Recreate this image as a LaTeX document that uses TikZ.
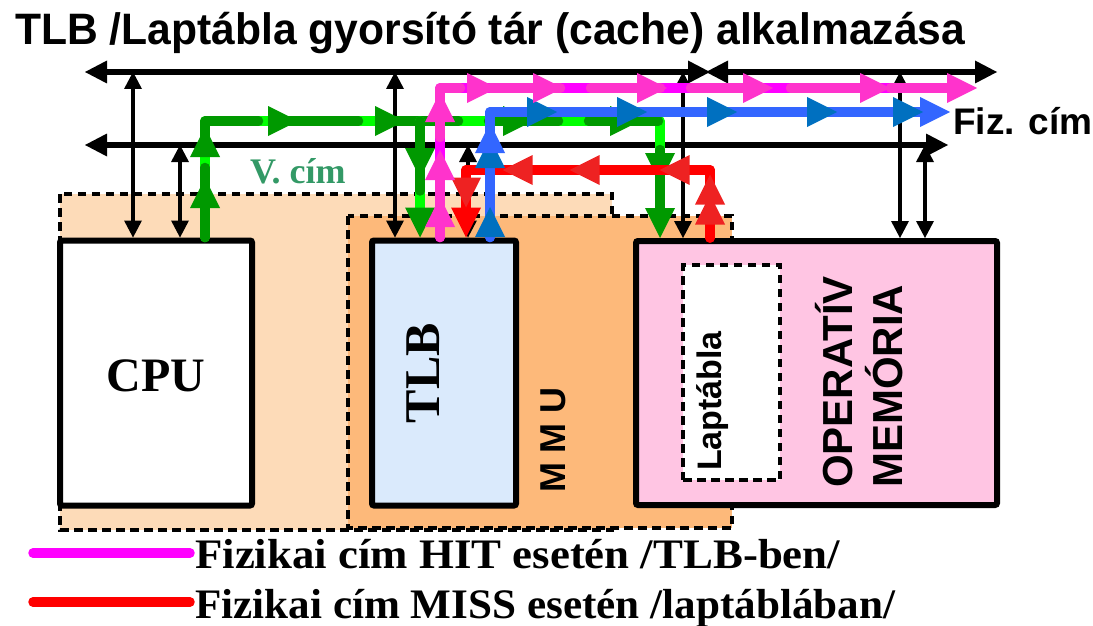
\documentclass[tikz,border=0pt]{standalone}
\usepackage{fontspec}
\setmainfont{Liberation Serif}
\setsansfont{Liberation Sans}
\usetikzlibrary{arrows.meta,decorations.markings}
\definecolor{peachL}{HTML}{FDDBB8}
\definecolor{peachD}{HTML}{FDB97A}
\definecolor{tlbfill}{HTML}{DAEAFC}
\definecolor{memfill}{HTML}{FFC5E3}
\definecolor{vgreen}{HTML}{339966}
\definecolor{gL}{HTML}{00FF00}
\definecolor{gD}{HTML}{009900}
\definecolor{pL}{HTML}{FF00FF}
\definecolor{pD}{HTML}{FF33CC}
\definecolor{bL}{HTML}{3366FF}
\definecolor{bD}{HTML}{0070C0}
\definecolor{rL}{HTML}{FF0000}
\definecolor{rD}{HTML}{EE2222}
\tikzset{
  BT/.tip={Triangle[width=23pt,length=22pt,line width=0pt]},
  VT/.tip={Triangle[width=18pt,length=17pt,line width=0pt]},
  CT/.tip={Triangle[width=30pt,length=30pt,line width=0pt]},
  bus/.style={line width=6.5pt, BT-BT},
  vlink/.style={line width=4.5pt, VT-VT},
  region/.style={draw, line width=4pt, dash pattern=on 8.5pt off 5.5pt},
  box/.style={draw, line width=6pt, rounded corners=2pt, inner sep=0pt},
  flowbase/.style={line width=9.5pt, line join=round, line cap=round, draw=#1, shorten >=26pt},
  flowtop/.style={line width=9.5pt, line join=round, line cap=round, draw=#1, dash pattern=on 70pt off 30pt, -{CT}},
  hd/.style 2 args={postaction={decorate,decoration={markings,mark=at position #2 with {\arrow[#1]{CT}}}}},
  serifb/.style={font=\bfseries\fontsize{#1}{#1}\selectfont, inner sep=0pt},
  sansb/.style={font=\sffamily\bfseries\fontsize{#1}{#1}\selectfont, inner sep=0pt},
}
\begin{document}
\begin{tikzpicture}[x=1pt,y=-1pt]
\useasboundingbox (0,0) rectangle (1093,626);
% regions
\draw[region, fill=peachL] (60,194) rectangle (612,530);
\draw[region, fill=peachD] (348,216) rectangle (732,528);
% boxes
\node[box, fill=white, minimum width=192pt, minimum height=265pt] (cpu) at (156,373) {};
\node[box, fill=tlbfill, minimum width=144pt, minimum height=265pt] (tlb) at (444,373) {};
\node[box, fill=memfill, minimum width=361pt, minimum height=264pt] (mem) at (816.5,373) {};
\node[draw, line width=4pt, dash pattern=on 8.5pt off 5.5pt, fill=white, inner sep=0pt, minimum width=97pt, minimum height=215pt] (lap) at (731.5,372.5) {};
% texts
\node[sansb=44, anchor=base west] (title) at (15,45) {\resizebox{950pt}{\height}{TLB /Laptábla gyorsító tár (cache) alkalmazása}};
\node[serifb=48] (cputxt) at (156,376) {CPU};
\node[serifb=50, rotate=90] (tlbtxt) at (423,373) {TLB};
\node[sansb=36, rotate=90] (mmutxt) at (553,440) {M M U};
\node[sansb=34, rotate=90] (laptxt) at (713,401) {Laptábla};
\node[sansb=42, rotate=90, anchor=base west] (op1) at (852,488) {OPERATÍV};
\node[sansb=42, rotate=90, anchor=base west] (op2) at (902,488) {MEMÓRIA};
\node[serifb=36, anchor=base west, text=vgreen] (vcim) at (250,183) {V. cím};
\node[sansb=37, anchor=base west] (fiz) at (953,135) {Fiz. cím};
% buses
\coordinate (A1) at (85,72); \coordinate (A2) at (710,72);
\coordinate (A3) at (706,72); \coordinate (A4) at (997,72);
\coordinate (B1) at (85,145); \coordinate (B2) at (948,145);
\draw[bus] (A1) -- (A2);
\draw[bus] (A3) -- (A4);
\draw[bus] (B1) -- (B2);
% black links
\coordinate (v1) at (133,72); \coordinate (v2) at (180,145);
\coordinate (v3) at (395,72); \coordinate (v4) at (468,145);
\coordinate (v5) at (683,72); \coordinate (v6) at (900,72);
\coordinate (v7) at (925,145);
\draw[vlink] (v1) -- (v1 |- cpu.north);
\draw[vlink] (v2) -- (v2 |- cpu.north);
\draw[vlink] (v3) -- (v3 |- tlb.north);
\draw[vlink] (v4) -- (v4 |- tlb.north);
\draw[vlink] (v5) -- (v5 |- mem.north);
\draw[vlink] (v6) -- (v6 |- mem.north);
\draw[vlink] (v7) -- (v7 |- mem.north);
% green: virtual address
\coordinate (g1) at (205,121); \coordinate (g2) at (660,121); \coordinate (g3) at (420,121);
\draw[flowbase=gL] (g1 |- cpu.north) -- (g1) -- (g2) -- (g2 |- mem.north);
\draw[flowtop=gD, hd={gD}{59.5pt}, hd={gD}{110.5pt}, hd={gD}{209.5pt}, hd={gD}{316.5pt}, hd={gD}{444.5pt}, hd={gD}{551.5pt}, hd={gD}{633.5pt}]
  (g1 |- cpu.north) -- (g1) -- (g2) -- (g2 |- mem.north);
\draw[flowbase=gL] (g3) -- (g3 |- tlb.north);
\draw[flowtop=gD, hd={gD}{57pt}] (g3) -- (g3 |- tlb.north);
% red: miss
\coordinate (r1) at (710,170); \coordinate (r2) at (466,170);
\draw[flowbase=rL] (r1 |- mem.north) -- (r1) -- (r2) -- (r2 |- tlb.north);
\draw[flowtop=rL, hd={rD}{43.5pt}, hd={rD}{63.5pt}, hd={rD}{118.5pt}, hd={rD}{208.5pt}, hd={rD}{275.5pt}, hd={rD}{349.5pt}]
  (r1 |- mem.north) -- (r1) -- (r2) -- (r2 |- tlb.north);
% blue: physical address
\coordinate (u1) at (490,112); \coordinate (u2) at (950,112);
\draw[flowbase=bL] (u1 |- tlb.north) -- (u1) -- (u2);
\draw[flowtop=bL, hd={bD}{30.5pt}, hd={bD}{99.5pt}, hd={bL}{114.5pt}, hd={bD}{192.5pt}, hd={bD}{282.5pt}, hd={bD}{372.5pt}, hd={bD}{472.5pt}, hd={bD}{558.5pt}]
  (u1 |- tlb.north) -- (u1) -- (u2);
% pink: hit
\coordinate (p1) at (440,88); \coordinate (p2) at (977,88);
\draw[flowbase=pL] (p1 |- tlb.north) -- (p1) -- (p2);
\draw[flowtop=pD, hd={pD}{40.5pt}, hd={pD}{87.5pt}, hd={pD}{145.5pt}, hd={pD}{206.5pt}, hd={pD}{272.5pt}, hd={pD}{376.5pt}, hd={pD}{482.5pt}, hd={pD}{599.5pt}]
  (p1 |- tlb.north) -- (p1) -- (p2);
% legend
\coordinate (l1a) at (33,553); \coordinate (l1b) at (190,553);
\coordinate (l2a) at (33,602); \coordinate (l2b) at (190,602);
\draw[line width=9.5pt, line cap=round, pL] (l1a) -- (l1b);
\draw[line width=9.5pt, line cap=round, rL] (l2a) -- (l2b);
\node[serifb=42, anchor=base west] (leg1) at (195,568) {\resizebox{645pt}{\height}{Fizikai cím HIT esetén /TLB-ben/}};
\node[serifb=42, anchor=base west] (leg2) at (195,618) {\resizebox{700pt}{\height}{Fizikai cím MISS esetén /laptáblában/}};
\end{tikzpicture}
\end{document}
